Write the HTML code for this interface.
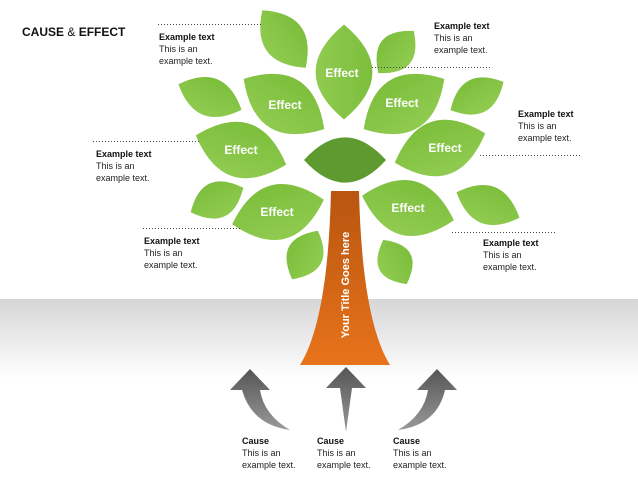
<!DOCTYPE html>
<html><head><meta charset="utf-8"><style>
html,body{margin:0;padding:0}
body{width:638px;height:479px;position:relative;overflow:hidden;font-family:"Liberation Sans",sans-serif;background:#fff}
.bg{position:absolute;left:0;top:299px;width:638px;height:80px;background:linear-gradient(#d6d6d6,#fff)}
.t{position:absolute;font-size:9px;line-height:12px;color:#222}
.t b{display:block;font-size:9px;color:#111}
svg{position:absolute;left:0;top:0}
</style></head><body>
<div class="bg"></div>
<svg width="638" height="479">
<defs>
<linearGradient id="g" x1="0" y1="0" x2="0" y2="1"><stop offset="0" stop-color="#7dbe3c"/><stop offset="1" stop-color="#8fcb50"/></linearGradient>
<linearGradient id="tr" x1="0" y1="0" x2="0" y2="1"><stop offset="0" stop-color="#b85510"/><stop offset="1" stop-color="#e8731a"/></linearGradient>
<linearGradient id="ar" x1="0" y1="0" x2="0" y2="1"><stop offset="0" stop-color="#555"/><stop offset="1" stop-color="#999"/></linearGradient>
<path id="L" d="M-50,0 Q0,-58 50,0 Q0,58 -50,0Z"/>
</defs>
<g fill="url(#g)">
<use href="#L" transform="translate(284,39) rotate(53) scale(0.72,0.72)"/>
<use href="#L" transform="translate(344,72) rotate(90) scale(0.95,0.98)"/>
<use href="#L" transform="translate(396,52) rotate(-50) scale(0.55,0.62)"/>
<use href="#L" transform="translate(210,97) rotate(22) scale(0.68,0.66)"/>
<use href="#L" transform="translate(284,104) rotate(32) scale(0.95,0.95)"/>
<use href="#L" transform="translate(404,104) rotate(-32) scale(0.95,0.95)"/>
<use href="#L" transform="translate(477,96) rotate(-28) scale(0.6,0.6)"/>
<use href="#L" transform="translate(241,150) rotate(18) scale(0.95,0.95)"/>
<use href="#L" transform="translate(440,148) rotate(-18) scale(0.95,0.95)"/>
<use href="#L" transform="translate(217,200) rotate(-25) scale(0.58,0.62)"/>
<use href="#L" transform="translate(278,212) rotate(-15) scale(0.95,0.95)"/>
<use href="#L" transform="translate(408,208) rotate(15) scale(0.95,0.95)"/>
<use href="#L" transform="translate(488,205) rotate(22) scale(0.68,0.66)"/>
<use href="#L" transform="translate(305,255) rotate(-62) scale(0.55,0.62)"/>
<use href="#L" transform="translate(395,262) rotate(62) scale(0.5,0.6)"/>
</g>
<use href="#L" fill="#5f9a30" transform="translate(345,160) scale(0.82,0.78)"/>
<path d="M331,191 L359,191 Q362,320 390,365 L300,365 Q328,320 331,191Z" fill="url(#tr)"/>
<text transform="translate(349,285) rotate(-90)" text-anchor="middle" font-family="Liberation Sans" font-weight="bold" font-size="11" fill="#fff">Your Title Goes here</text>
<g font-family="Liberation Sans" font-weight="bold" font-size="12" fill="#fff" text-anchor="middle">
<text x="342" y="77">Effect</text>
<text x="285" y="109">Effect</text>
<text x="402" y="107">Effect</text>
<text x="241" y="154">Effect</text>
<text x="445" y="152">Effect</text>
<text x="277" y="216">Effect</text>
<text x="408" y="212">Effect</text>
</g>
<g stroke="#444" stroke-dasharray="1,2" stroke-width="1">
<line x1="158" y1="24.5" x2="262" y2="24.5"/>
<line x1="372" y1="67.5" x2="490" y2="67.5"/>
<line x1="93" y1="141.5" x2="200" y2="141.5"/>
<line x1="480" y1="155.5" x2="580" y2="155.5"/>
<line x1="143" y1="228.5" x2="240" y2="228.5"/>
<line x1="452" y1="232.5" x2="555" y2="232.5"/>
</g>
<g fill="url(#ar)">
<path d="M250,369 L270,390 L260,390 Q264,415 290,430 Q252,425 242,390 L230,390Z"/>
<path d="M346,367 L366,388 L352,388 L346,432 L340,388 L326,388Z"/>
<path d="M437,369 L457,390 L445,390 Q437,425 398,430 Q424,415 428,390 L417,390Z"/>
</g>
</svg>
<div style="position:absolute;left:22px;top:25px;font-size:12px;font-weight:bold;color:#111">CAUSE <span style="font-weight:normal">&amp;</span> EFFECT</div>
<div class="t" style="left:159px;top:31px"><b>Example text</b>This is an<br>example text.</div>
<div class="t" style="left:434px;top:20px"><b>Example text</b>This is an<br>example text.</div>
<div class="t" style="left:518px;top:108px"><b>Example text</b>This is an<br>example text.</div>
<div class="t" style="left:96px;top:148px"><b>Example text</b>This is an<br>example text.</div>
<div class="t" style="left:144px;top:235px"><b>Example text</b>This is an<br>example text.</div>
<div class="t" style="left:483px;top:237px"><b>Example text</b>This is an<br>example text.</div>
<div class="t" style="left:242px;top:435px"><b>Cause</b>This is an<br>example text.</div>
<div class="t" style="left:317px;top:435px"><b>Cause</b>This is an<br>example text.</div>
<div class="t" style="left:393px;top:435px"><b>Cause</b>This is an<br>example text.</div>
</body></html>
